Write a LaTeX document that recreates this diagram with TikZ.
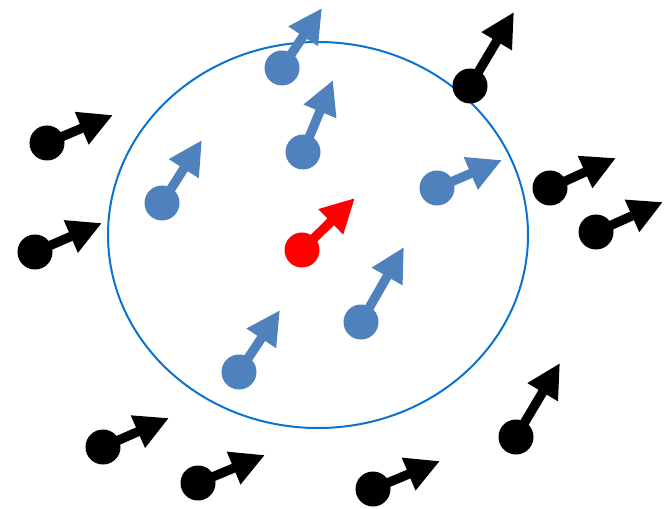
\documentclass[tikz,border=0pt]{standalone}
\usetikzlibrary{arrows.meta}
\definecolor{dotblue}{RGB}{79,129,189}
\definecolor{ringblue}{RGB}{10,115,205}
\tikzset{
  dot/.style={circle,inner sep=0pt,minimum size=10.5mm},
  spin/.style={line width=2.8mm,-{Triangle[length=10.2mm,width=9.9mm]}}
}
\begin{document}
\begin{tikzpicture}[x=0.03cm,y=-0.03cm]
  \useasboundingbox (0,0) rectangle (667,509);
  \draw[ringblue,line width=0.6mm] (318,235) ellipse [x radius=210,y radius=193];

  % neighbours inside the ring
  \node[dot,fill=dotblue] (b1) at (282,68)  {};
  \node[dot,fill=dotblue] (b2) at (303,152) {};
  \node[dot,fill=dotblue] (b3) at (162,203) {};
  \node[dot,fill=dotblue] (b4) at (437,188) {};
  \node[dot,fill=dotblue] (b5) at (361,322) {};
  \node[dot,fill=dotblue] (b6) at (239,372) {};
  \coordinate (b1t) at (322,8);
  \coordinate (b2t) at (333,80);
  \coordinate (b3t) at (202,140);
  \coordinate (b4t) at (502,160);
  \coordinate (b5t) at (404,247);
  \coordinate (b6t) at (280,310);

  % centre
  \node[dot,fill=red] (c) at (302,250) {};
  \coordinate (ct) at (355,198);

  % outside the ring
  \node[dot,fill=black] (k1) at (47,143)  {};
  \node[dot,fill=black] (k2) at (35,252)  {};
  \node[dot,fill=black] (k3) at (470,86)  {};
  \node[dot,fill=black] (k4) at (550,188) {};
  \node[dot,fill=black] (k5) at (596,232) {};
  \node[dot,fill=black] (k6) at (103,447) {};
  \node[dot,fill=black] (k7) at (198,483) {};
  \node[dot,fill=black] (k8) at (373,489) {};
  \node[dot,fill=black] (k9) at (516,437) {};
  \coordinate (k1t) at (113,115);
  \coordinate (k2t) at (102,223);
  \coordinate (k3t) at (514,12);
  \coordinate (k4t) at (616,158);
  \coordinate (k5t) at (663,202);
  \coordinate (k6t) at (169,418);
  \coordinate (k7t) at (265,455);
  \coordinate (k8t) at (440,461);
  \coordinate (k9t) at (560,363);

  \foreach \from/\to in {b1/b1t,b2/b2t,b3/b3t,b4/b4t,b5/b5t,b6/b6t}
    \draw[spin,dotblue] (\from.center) -- (\to);
  \draw[spin,red] (c.center) -- (ct);
  \foreach \from/\to in {k1/k1t,k2/k2t,k3/k3t,k4/k4t,k5/k5t,k6/k6t,k7/k7t,k8/k8t,k9/k9t}
    \draw[spin,black] (\from.center) -- (\to);

\end{tikzpicture}
\end{document}
